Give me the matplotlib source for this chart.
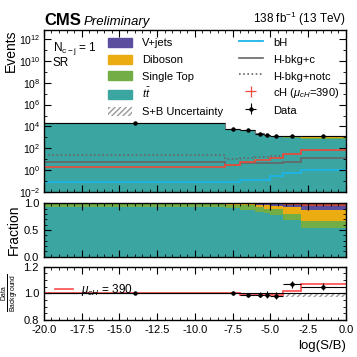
import numpy as np
import matplotlib
matplotlib.use("Agg")
import matplotlib.pyplot as plt
from matplotlib.patches import Patch, Rectangle
from matplotlib.lines import Line2D
from matplotlib.legend_handler import HandlerPatch
from matplotlib.ticker import MultipleLocator, FixedLocator, NullFormatter, FormatStrFormatter

plt.rcParams["font.family"] = ["Liberation Sans", "DejaVu Sans"]
plt.rcParams["mathtext.fontset"] = "custom"
plt.rcParams["mathtext.rm"] = "Liberation Sans"
plt.rcParams["mathtext.it"] = "Liberation Sans:italic"
plt.rcParams["mathtext.bf"] = "Liberation Sans:bold"

# bins in log(S/B)
edges = [-20.0, -8.0, -7.0, -6.0, -5.4, -5.0, -4.2, -3.0, 0.0]

# background yields per bin
ttbar = [17860, 5520, 3870, 1910, 1360, 1080, 880, 690]
single_top = [950, 360, 400, 210, 136, 154, 163, 170]
diboson = [150, 90, 110, 115, 120, 98, 156, 240]
vjets = [40, 30, 20, 46, 51, 49, 65, 100]
other = [0, 0, 0, 0, 5, 10, 25, 65]

# observed data
data = [19000, 6000, 4356, 2258, 1655, 1363, 1373, 1328]

# signal / alternative hypotheses
bH = [0.087, 0.087, 0.13, 0.13, 0.13, 0.27, 0.54, 1.0]
hbkg_c = [5.7, 2.8, 4.3, 4.3, 4.5, 5.0, 5.7, 12.0]
hbkg_notc = [25, 10, 14, 16, 17, 18, 30, 70]
cH = [2.0, 2.8, 5.7, 8.6, 9.0, 12.0, 28.0, 70.0]

# ratio panel: (S+B)/B for mu_cH = 390, uncertainty band
cH_ratio = [1.0, 1.0, 0.988, 0.988, 0.988, 0.988, 1.02, 1.07]
unc_lo = [0.999, 0.995, 0.985, 0.985, 0.985, 0.985, 0.975, 0.972]
unc_hi = [1.001, 1.005, 1.0, 1.0, 1.0, 1.0, 1.0, 1.0]

c_tt = "#3aa5a1"
c_st = "#72ad45"
c_db = "#ebac12"
c_vj = "#5b4e9f"
c_ot = "#c9473a"
c_bh = "#1db4e8"
c_gray = "#666666"
c_red = "#ec4b3c"

edges = np.array(edges)
centers = 0.5 * (edges[1:] + edges[:-1])
halfw = 0.5 * (edges[1:] - edges[:-1])
procs = [ttbar, single_top, diboson, vjets, other]
colors = [c_tt, c_st, c_db, c_vj, c_ot]
stack = np.cumsum(np.array(procs, dtype=float), axis=0)
total = stack[-1]
data = np.array(data, dtype=float)


def small_rect(legend, orig_handle, xdescent, ydescent, width, height, fontsize):
    h = 0.8 * fontsize
    return Rectangle((-xdescent, -ydescent + (height - h) / 2), width, h)


fig = plt.figure(figsize=(3.57, 3.57), dpi=100)
ax = fig.add_axes([0.123, 0.462, 0.846, 0.454])
axf = fig.add_axes([0.123, 0.281, 0.846, 0.149])
axr = fig.add_axes([0.123, 0.104, 0.846, 0.1495])

# main panel
base = np.full(len(total), 1e-3)
for i in range(len(procs)):
    ax.stairs(stack[i], edges, baseline=base, fill=True, color=colors[i], lw=0)
    base = stack[i]
ax.stairs(total * 1.01, edges, baseline=total * 0.99, fill=True, facecolor="none",
          edgecolor="#888888", hatch="//////", lw=0)
ax.stairs(total, edges, color="#777777", lw=0.8, baseline=None)
ax.stairs(bH, edges, color=c_bh, lw=1.3, baseline=None)
ax.stairs(hbkg_c, edges, color=c_gray, lw=1.2, baseline=None)
ax.stairs(hbkg_notc, edges, color=c_gray, lw=1.2, ls=(0, (1, 1.5)), baseline=None)
ax.stairs(cH, edges, color=c_red, lw=1.2, baseline=None)
ax.errorbar(centers, data, xerr=halfw, yerr=np.sqrt(data), fmt="o", color="black",
            ms=2.2, lw=0.8)

ax.set_yscale("log")
ax.set_ylim(1e-2, 6.6e12)
ax.set_xlim(-20, 0)
ax.yaxis.set_major_locator(FixedLocator([10.0 ** k for k in range(-2, 13, 2)]))
ax.yaxis.set_minor_locator(FixedLocator([10.0 ** k for k in range(-2, 13)]))
ax.yaxis.set_minor_formatter(NullFormatter())
ax.set_ylabel("Events", fontsize=10, loc="top")
ax.tick_params(labelbottom=False)

leg_handles = [Patch(color=c_vj), Patch(color=c_db), Patch(color=c_st), Patch(color=c_tt),
               Patch(facecolor="none", edgecolor="#999999", hatch="//////", lw=0)]
leg_labels = ["V+jets", "Diboson", "Single Top", r"$t\bar{t}$", "S+B Uncertainty"]
leg1 = ax.legend(leg_handles, leg_labels, loc="upper left", bbox_to_anchor=(0.197, 0.99),
                 frameon=False, fontsize=8, labelspacing=0.31, handlelength=2.2,
                 handleheight=1.45, handletextpad=0.9, borderaxespad=0,
                 handler_map={Patch: HandlerPatch(patch_func=small_rect)})
ax.add_artist(leg1)

h_bh = Line2D([], [], color=c_bh, lw=1.3)
h_c = Line2D([], [], color=c_gray, lw=1.2)
h_nc = Line2D([], [], color=c_gray, lw=1.2, ls=(0, (1, 1.5)))
h_cH = ax.errorbar([np.nan], [np.nan], xerr=[1], yerr=[1], fmt="none", color=c_red, lw=0.9)
h_data = ax.errorbar([np.nan], [np.nan], xerr=[1], yerr=[1], fmt="o", color="black",
                     ms=2.2, lw=0.8)
ax.legend([h_bh, h_c, h_nc, h_cH, h_data],
          ["bH", "H-bkg+c", "H-bkg+notc", r"cH ($\mu_{cH}$=390)", "Data"],
          loc="upper left", bbox_to_anchor=(0.63, 0.99), frameon=False, fontsize=8,
          labelspacing=0.31, handlelength=2.2, handleheight=1.45, handletextpad=0.9,
          borderaxespad=0)

ax.text(0.03, 0.94, r"N$_{\rm c-j}$ = 1", transform=ax.transAxes, fontsize=8.5,
        va="top", ha="left")
ax.text(0.03, 0.835, "SR", transform=ax.transAxes, fontsize=8.5, va="top", ha="left")
ax.text(0.0, 1.01, "CMS", transform=ax.transAxes, fontsize=12, fontweight="bold",
        va="bottom", ha="left")
ax.text(0.133, 1.012, "Preliminary", transform=ax.transAxes, fontsize=9.5, style="italic",
        va="bottom", ha="left")
ax.text(1.0, 1.01, r"138 fb$^{-1}$ (13 TeV)", transform=ax.transAxes, fontsize=8.5,
        va="bottom", ha="right")

# fraction panel
frac = stack / total
base = np.zeros(len(total))
for i in range(len(procs)):
    axf.stairs(frac[i], edges, baseline=base, fill=True, color=colors[i], lw=0)
    base = frac[i]
axf.set_xlim(-20, 0)
axf.set_ylim(0, 1)
axf.yaxis.set_major_locator(MultipleLocator(0.5))
axf.yaxis.set_minor_locator(MultipleLocator(0.1))
axf.set_ylabel("Fraction", fontsize=10)
axf.tick_params(labelbottom=False)

# ratio panel
axr.stairs(unc_hi, edges, baseline=unc_lo, fill=True, facecolor="none",
           edgecolor="#999999", hatch="//////", lw=0)
axr.axhline(1.0, color="black", lw=0.8)
axr.stairs(cH_ratio, edges, color="#ff4a4a", lw=1.2, baseline=None)
axr.errorbar(centers, data / total, xerr=halfw, yerr=np.sqrt(data) / total, fmt="o",
             color="black", ms=2.2, lw=0.8)
axr.legend(handles=[Line2D([], [], color="#ff4a4a", lw=1.2)],
           labels=[r"$\mu_{cH}$ = 390"], loc="upper left", bbox_to_anchor=(0.0, 0.9),
           frameon=False, fontsize=8.5, handlelength=1.6, handletextpad=0.6)
axr.set_xlim(-20, 0)
axr.set_ylim(0.8, 1.2)
axr.yaxis.set_major_locator(MultipleLocator(0.2))
axr.yaxis.set_minor_locator(MultipleLocator(0.05))
axr.set_ylabel(r"$\frac{\rm Data}{\rm Background}$", fontsize=7)
axr.set_xlabel("log(S/B)", fontsize=9.5, loc="right")

for a in (ax, axf, axr):
    a.xaxis.set_major_locator(MultipleLocator(2.5))
    a.xaxis.set_minor_locator(MultipleLocator(0.5))
    a.tick_params(which="both", direction="in", top=True, right=True, labelsize=8)
    a.tick_params(which="major", length=5, width=0.8)
    a.tick_params(which="minor", length=2.5, width=0.6)
    for s in a.spines.values():
        s.set_linewidth(1.0)
ax.tick_params(axis="y", labelsize=7.5, pad=2.5)
axr.xaxis.set_major_formatter(FormatStrFormatter("%.1f"))
axf.yaxis.set_major_formatter(FormatStrFormatter("%.1f"))
axr.yaxis.set_major_formatter(FormatStrFormatter("%.1f"))
ax.yaxis.set_label_coords(-0.085, 1.0)
axf.yaxis.set_label_coords(-0.075, 0.5)
axr.yaxis.set_label_coords(-0.08, 0.5)

fig.savefig("out.png", dpi=100)
